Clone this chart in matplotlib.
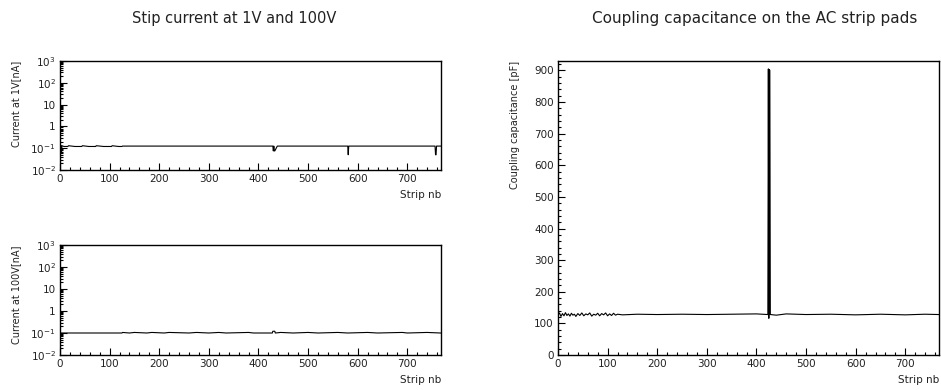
import matplotlib
matplotlib.use('Agg')
import matplotlib.pyplot as plt
from matplotlib.ticker import MultipleLocator, FixedLocator, FixedFormatter, NullFormatter

plt.rcParams['font.family'] = ['DejaVu Sans']
plt.rcParams['mathtext.default'] = 'regular'

# ---------------- data ----------------
n_strips = 768

# Strip current at 1V [nA] (strip number, value at change points)
i1v_strip = [0, 1, 2, 3, 4, 8, 16, 17, 30, 44, 45, 58, 72, 73, 88, 104, 105, 118, 125, 126,
             429, 430, 431, 432, 433, 438, 580, 581, 582, 756, 757, 758, 759, 767]
i1v_nA = [0.13, 0.05, 0.13, 0.06, 0.13, 0.12, 0.12, 0.13, 0.12, 0.12, 0.13, 0.12, 0.12, 0.13,
          0.12, 0.12, 0.13, 0.12, 0.12, 0.125,
          0.125, 0.075, 0.125, 0.075, 0.075, 0.125, 0.125, 0.05, 0.125, 0.125, 0.05, 0.05, 0.125, 0.125]

# Strip current at 100V [nA]
i100v_strip = [0, 125, 126, 140, 150, 175, 185, 210, 220, 260, 275, 300, 320, 335, 380, 390,
               428, 429, 433, 434, 445, 470, 500, 520, 560, 580, 620, 640, 690, 700, 740, 767]
i100v_nA = [0.1, 0.1, 0.106, 0.1, 0.106, 0.1, 0.106, 0.1, 0.106, 0.1, 0.106, 0.1, 0.106, 0.1, 0.106, 0.1,
            0.1, 0.12, 0.12, 0.1, 0.106, 0.1, 0.106, 0.1, 0.106, 0.1, 0.106, 0.1, 0.106, 0.1, 0.106, 0.1]

# Coupling capacitance [pF]
cap_strip = [0, 3, 6, 9, 12, 15, 18, 21, 24, 27, 30, 33, 36, 40, 44, 48, 52, 56, 60, 64, 68, 72,
             76, 80, 84, 88, 92, 96, 100, 104, 108, 112, 116, 120, 130, 160, 200, 250, 300, 350,
             400, 423, 424, 425, 426, 427, 428, 440, 460, 500, 550, 600, 650, 700, 740, 767]
cap_pF = [127, 133, 122, 131, 124, 134, 125, 130, 123, 132, 126, 129, 122, 131, 125, 133, 124, 130,
          127, 133, 123, 129, 126, 132, 124, 131, 127, 133, 124, 130, 125, 132, 126, 129, 127, 129,
          128, 129, 128, 129, 130, 128, 905, 116, 903, 900, 128, 126, 130, 128, 129, 127, 129, 127,
          129, 128]

log_ticks = [1e-2, 1e-1, 1, 10, 1e2, 1e3]
log_labels = ['$10^{-2}$', '$10^{-1}$', '1', '10', '$10^{2}$', '$10^{3}$']

# ---------------- figure ----------------
W, H = 941, 390
fig = plt.figure(figsize=(W / 100, H / 100), dpi=100)
TXT = '#222222'


def ax_px(x0, y0, x1, y1):
    return fig.add_axes([x0 / W, 1 - y1 / H, (x1 - x0) / W, (y1 - y0) / H])


def style(ax):
    for s in ax.spines.values():
        s.set_linewidth(1.0)
    ax.tick_params(which='both', direction='in', top=False, right=False,
                   labelsize=7.5, width=0.8, color='black', labelcolor=TXT)
    ax.tick_params(which='major', length=5, pad=3)
    ax.tick_params(which='minor', length=2.5)
    ax.set_xlim(0, n_strips)
    ax.xaxis.set_major_locator(MultipleLocator(100))
    ax.xaxis.set_minor_locator(MultipleLocator(20))


ax1 = ax_px(60, 61, 441, 170)
ax2 = ax_px(60, 245, 441, 355)
ax3 = ax_px(558, 61, 939, 355)

for ax, xs, ys, lab in [(ax1, i1v_strip, i1v_nA, 'Current at 1V[nA]'),
                        (ax2, i100v_strip, i100v_nA, 'Current at 100V[nA]')]:
    style(ax)
    ax.set_yscale('log')
    ax.set_ylim(1e-2, 1e3)
    ax.yaxis.set_major_locator(FixedLocator(log_ticks))
    ax.yaxis.set_major_formatter(FixedFormatter(log_labels))
    minors = [m * 10.0 ** e for e in range(-2, 3) for m in range(2, 10)]
    ax.yaxis.set_minor_locator(FixedLocator(minors))
    ax.yaxis.set_minor_formatter(NullFormatter())
    ax.plot(xs, ys, color='black', lw=0.8)
    ax.set_ylabel(lab, fontsize=7, loc='top', labelpad=7, color=TXT)
    ax.set_xlabel('Strip nb', fontsize=7.5, loc='right', labelpad=4, color=TXT)

style(ax3)
ax3.set_ylim(0, 930)
ax3.yaxis.set_major_locator(MultipleLocator(100))
ax3.yaxis.set_minor_locator(MultipleLocator(20))
ax3.plot(cap_strip, cap_pF, color='black', lw=0.8)
ax3.set_ylabel('Coupling capacitance [pF]', fontsize=7, loc='top', labelpad=10, color=TXT)
ax3.set_xlabel('Strip nb', fontsize=7.5, loc='right', labelpad=4, color=TXT)

fig.text(234 / W, 1 - 18 / H, 'Stip current at 1V and 100V', ha='center', va='center',
         fontsize=10.5, color=TXT)
fig.text(755 / W, 1 - 18 / H, 'Coupling capacitance on the AC strip pads', ha='center', va='center',
         fontsize=11, color=TXT)

fig.savefig('out.png', dpi=100, facecolor='white')
